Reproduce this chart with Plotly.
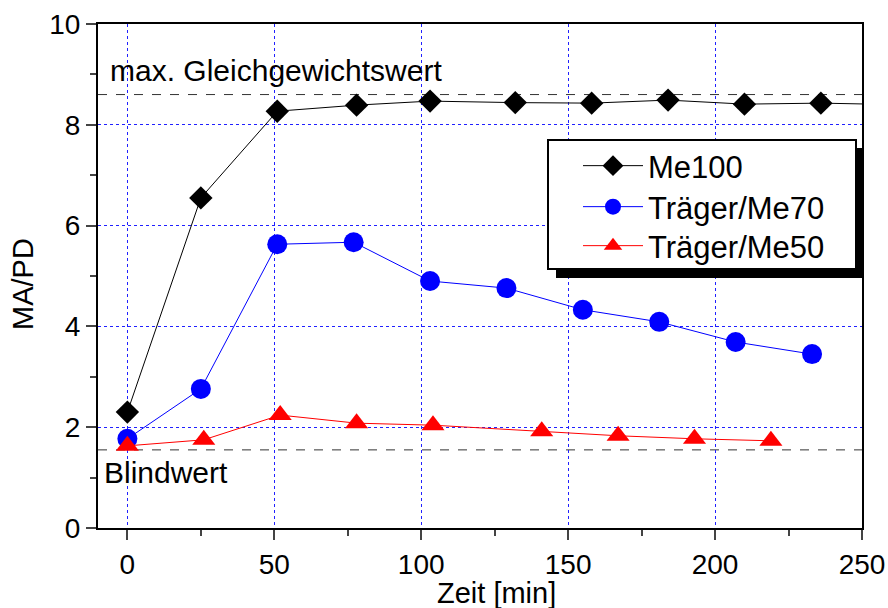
import plotly.graph_objects as go

# Data
me100_x = [0, 25, 51, 78, 103, 132, 158, 184, 210, 236, 262]
me100_y = [2.30, 6.55, 8.27, 8.39, 8.47, 8.44, 8.43, 8.49, 8.41, 8.43, 8.40]
me70_x = [0, 25, 51, 77, 103, 129, 155, 181, 207, 233]
me70_y = [1.77, 2.76, 5.63, 5.67, 4.90, 4.76, 4.33, 4.09, 3.69, 3.45]
me50_x = [0, 26, 52, 78, 104, 141, 167, 193, 219]
me50_y = [1.63, 1.75, 2.24, 2.08, 2.04, 1.92, 1.83, 1.77, 1.73]
max_level = 8.6
blank_level = 1.55
x_ticks = [0, 50, 100, 150, 200, 250]
y_ticks = [0, 2, 4, 6, 8, 10]

FONT = "Liberation Sans, Arial, sans-serif"

# plot-area geometry in pixels (for legend frame placement)
L, R, T, B = 98, 862, 24, 528
def px_x(p):
    return (p - L) / (R - L)
def px_y(p):
    return (B - p) / (B - T)

fig = go.Figure()
fig.add_trace(go.Scatter(x=me100_x, y=me100_y, name="Me100", mode="lines+markers",
                         line=dict(color="black", width=1), legend="legend",
                         marker=dict(symbol="diamond", size=18, color="black")))
fig.add_trace(go.Scatter(x=me70_x, y=me70_y, name="Träger/Me70", mode="lines+markers",
                         line=dict(color="blue", width=1), legend="legend2",
                         marker=dict(symbol="circle", size=20, color="blue")))
fig.add_trace(go.Scatter(x=me50_x, y=me50_y, name="Träger/Me50", mode="lines+markers",
                         line=dict(color="red", width=1), legend="legend3",
                         marker=dict(symbol="triangle-up", size=20, color="red")))

for lvl in (max_level, blank_level):
    fig.add_shape(type="line", xref="paper", x0=0, x1=1, yref="y", y0=lvl, y1=lvl,
                  line=dict(color="#333333", width=1, dash="dash"), layer="below")

fig.add_annotation(x=px_x(108), xref="paper", y=max_level, yref="y", yshift=24,
                   text="max. Gleichgewichtswert", showarrow=False, xanchor="left",
                   font=dict(size=30, color="black", family=FONT))
fig.add_annotation(x=px_x(102), xref="paper", y=blank_level, yref="y", yshift=-23,
                   text="Blindwert", showarrow=False, xanchor="left",
                   font=dict(size=30, color="black", family=FONT))

# axis titles
fig.add_annotation(x=px_x(497), xref="paper", y=px_y(593), yref="paper",
                   text="Zeit [min]", showarrow=False, xanchor="center", yanchor="middle",
                   font=dict(size=29, color="black", family=FONT))
fig.add_annotation(x=px_x(23), xref="paper", y=px_y(284), yref="paper",
                   text="MA/PD", showarrow=False, textangle=-90,
                   xanchor="center", yanchor="middle",
                   font=dict(size=29, color="black", family=FONT))

# legend shadow and frame
fig.add_shape(type="rect", xref="paper", yref="paper",
              x0=px_x(556), x1=px_x(864), y0=px_y(278), y1=px_y(148),
              fillcolor="black", line=dict(width=0), layer="above")
fig.add_shape(type="rect", xref="paper", yref="paper",
              x0=px_x(548), x1=px_x(856), y0=px_y(269), y1=px_y(140),
              fillcolor="white", line=dict(width=2, color="black"), layer="above")

grid = dict(showgrid=True, gridcolor="#2020ff", gridwidth=1, griddash="dot")
fig.update_xaxes(range=[-10, 250], tickvals=x_ticks, ticks="outside", ticklen=10, tickwidth=2,
                 showline=True, linewidth=2, linecolor="black", mirror=True, automargin=False,
                 minor=dict(ticks="outside", ticklen=6, tickwidth=2, dtick=25, tick0=25, showgrid=False),
                 tickfont=dict(size=28, family=FONT, color="black"), zeroline=False,
                 **grid)
fig.update_yaxes(range=[0, 10], tickvals=y_ticks, ticks="outside", ticklen=10, tickwidth=2,
                 showline=True, linewidth=2, linecolor="black", mirror=True, automargin=False,
                 minor=dict(ticks="outside", ticklen=6, tickwidth=2, dtick=1, tick0=1, showgrid=False),
                 tickfont=dict(size=28, family=FONT, color="black"), zeroline=False,
                 **grid)

leg_common = dict(xanchor="left", yanchor="middle", bgcolor="rgba(0,0,0,0)", borderwidth=0,
                  font=dict(size=31, family=FONT, color="black"),
                  itemwidth=60, itemsizing="trace")
fig.update_layout(
    width=888, height=608,
    margin=dict(l=L, r=888 - R, t=T, b=608 - B),
    plot_bgcolor="white", paper_bgcolor="white",
    showlegend=True,
    legend=dict(x=px_x(578), y=px_y(166), **leg_common),
    legend2=dict(x=px_x(578), y=px_y(207), **leg_common),
    legend3=dict(x=px_x(578), y=px_y(246), **leg_common),
    font=dict(family=FONT),
)

fig.write_html("out.html", config={"displayModeBar": False},
               post_script="document.body.style.margin='0';")
